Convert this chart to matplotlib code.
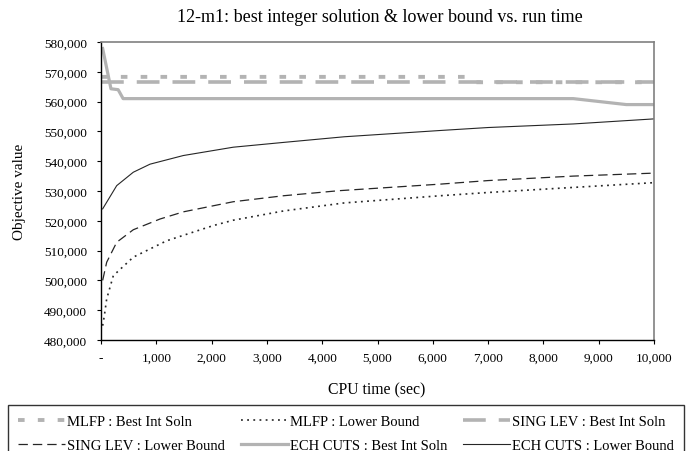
import matplotlib
matplotlib.use("Agg")
import matplotlib.pyplot as plt
from matplotlib.ticker import FuncFormatter

plt.rcParams['font.family'] = ['Liberation Serif', 'DejaVu Serif']

# ---- data ----
mlfp_best_t = [0, 6580, 6750, 10000]
mlfp_best_v = [568300, 568300, 566500, 566500]

mlfp_lb_t = [30, 60, 103, 223, 584, 1188, 2031, 2392, 3300, 4400, 6130, 7000, 8540, 10000]
mlfp_lb_v = [484800, 488100, 493800, 501600, 507800, 513300, 518400, 520200, 523300, 526000, 528400, 529500, 531200, 532800]

sing_best_t = [0, 10000]
sing_best_v = [566500, 566500]

sing_lb_t = [30, 103, 284, 584, 1067, 1488, 2392, 3297, 4300, 6130, 7000, 8540, 10000]
sing_lb_v = [500000, 506100, 512800, 517000, 520600, 523000, 526400, 528400, 530100, 532300, 533500, 535000, 536000]

ech_best_t = [30, 180, 310, 400, 8540, 9500, 10000]
ech_best_v = [577800, 564300, 564000, 561000, 561000, 559000, 559000]

ech_lb_t = [30, 284, 584, 886, 1488, 2392, 3297, 4400, 6130, 7000, 8540, 10000]
ech_lb_v = [524000, 531800, 536300, 539000, 541900, 544700, 546300, 548200, 550300, 551300, 552500, 554200]

x_ticks = list(range(0, 10001, 1000))
y_ticks = list(range(480000, 580001, 10000))

LIGHT = '#b3b3b3'
DARK = '#262626'

fig = plt.figure(figsize=(6.86, 4.52), dpi=100)
ax = fig.add_axes([101/686, 1 - 341/452, 553/686, 298/452])

h_mb, = ax.plot(mlfp_best_t, mlfp_best_v, color=LIGHT, lw=2.8, dashes=(1.7, 3.4),
                label='MLFP : Best Int Soln')
h_ml, = ax.plot(mlfp_lb_t, mlfp_lb_v, color=DARK, lw=1.2, dashes=(1.1, 2.6),
                label='MLFP : Lower Bound')
h_sb, = ax.plot(sing_best_t, sing_best_v, color=LIGHT, lw=2.6, dashes=(6.3, 3.6),
                label='SING LEV : Best Int Soln')
h_sl, = ax.plot(sing_lb_t, sing_lb_v, color=DARK, lw=0.9, dashes=(7.5, 4.0),
                label='SING LEV : Lower Bound')
h_eb, = ax.plot(ech_best_t, ech_best_v, color=LIGHT, lw=2.3, solid_joinstyle='round',
                label='ECH CUTS : Best Int Soln')
h_el, = ax.plot(ech_lb_t, ech_lb_v, color=DARK, lw=0.8,
                label='ECH CUTS : Lower Bound')

ax.set_xlim(0, 10000)
ax.set_ylim(480000, 580000)
ax.set_xticks(x_ticks)
ax.set_yticks(y_ticks)
ax.xaxis.set_major_formatter(FuncFormatter(lambda v, p: '-' if v == 0 else f'{int(v):,}'))
ax.yaxis.set_major_formatter(FuncFormatter(lambda v, p: f'{int(v):,}'))
ax.tick_params(axis='both', direction='out', length=3, width=0.8, labelsize=9.5,
               colors='black')
ax.tick_params(axis='x', pad=5.5)
ax.tick_params(axis='y', pad=7)

for s in ['left', 'bottom']:
    ax.spines[s].set_color('black')
    ax.spines[s].set_linewidth(1.0)
for s in ['top', 'right']:
    ax.spines[s].set_color('#808080')
    ax.spines[s].set_linewidth(1.2)

fig.text(380/686, 1 - 17/452, '12-m1: best integer solution & lower bound vs. run time',
         ha='center', va='center', fontsize=13)
fig.text(20/686, 1 - 192/452, 'Objective value', rotation=90, ha='center', va='center',
         fontsize=11)
fig.text(377/686, 1 - 390/452, 'CPU time (sec)', ha='center', va='center', fontsize=11.3)

# legend rows filled left-to-right like the reference
handles = [h_mb, h_sl, h_ml, h_eb, h_sb, h_el]
labels = [h.get_label() for h in handles]
leg = fig.legend(handles, labels, loc='upper left',
                 bbox_to_anchor=(8/686, 1 - 406/452, 676/686, 0.0),
                 mode='expand', ncol=3, fontsize=10.5, frameon=True, fancybox=False,
                 edgecolor='black', handlelength=3.2, handletextpad=0.15,
                 borderpad=0.7, labelspacing=0.7, columnspacing=0.8,
                 borderaxespad=0.0)
leg.get_frame().set_linewidth(1.0)

fig.savefig('out.png', dpi=100)
